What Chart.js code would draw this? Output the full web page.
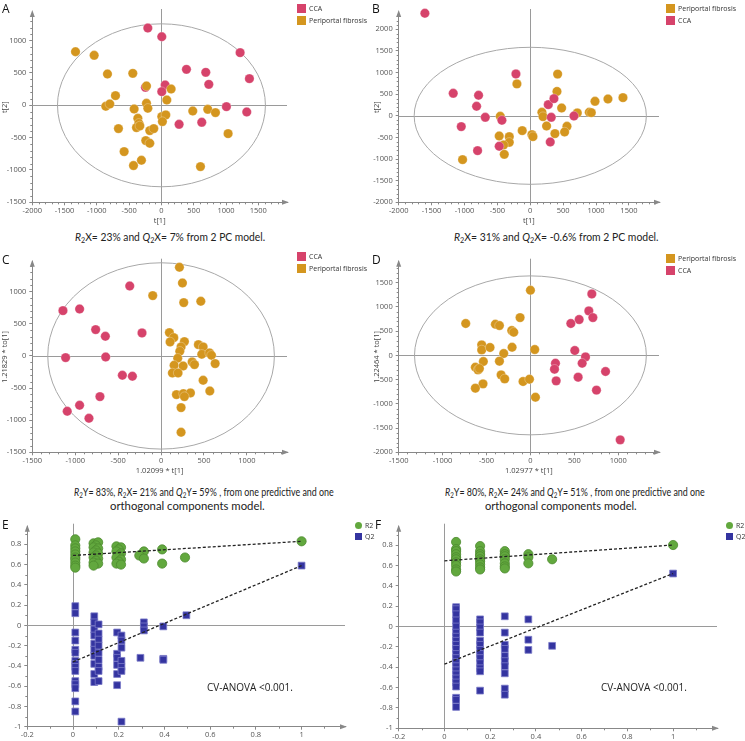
<!DOCTYPE html>
<html>
<head>
<meta charset="utf-8">
<script src="https://cdn.jsdelivr.net/npm/chart.js@4.4.1/dist/chart.umd.min.js"></script>
<style>
body{margin:0;background:#fff;width:745px;height:741px;position:relative;overflow:hidden;font-family:'Open Sans',sans-serif}
canvas{position:absolute;display:block}
.lbl{position:absolute;font-size:12px;color:#111;line-height:12px}
.leg{position:absolute;font-size:7px;color:#333;line-height:9px;white-space:nowrap}
.leg i{display:inline-block;width:9px;height:9px;vertical-align:top;margin-right:3px}
.leg b{display:inline-block;width:7px;height:7px;border-radius:50%;vertical-align:top;margin:1px 3px 0 1px}
.cap{position:absolute;font-family:Lato,sans-serif;font-size:11px;color:#222;white-space:nowrap;line-height:13px;transform-origin:0 50%}
.cap sub{font-size:0.7em;vertical-align:-0.3em;line-height:0}
.cv{position:absolute;font-size:10px;color:#222;white-space:nowrap;line-height:13px}
</style>
</head>
<body>
<canvas id="cA" width="372" height="228" style="left:0;top:0"></canvas>
<canvas id="cB" width="373" height="228" style="left:372px;top:0"></canvas>
<canvas id="cC" width="372" height="228" style="left:0;top:250px"></canvas>
<canvas id="cD" width="373" height="228" style="left:372px;top:250px"></canvas>
<canvas id="cE" width="372" height="226" style="left:0;top:515px"></canvas>
<canvas id="cF" width="373" height="226" style="left:372px;top:515px"></canvas>

<div class="lbl" style="left:2px;top:3px">A</div>
<div class="lbl" style="left:372px;top:3px">B</div>
<div class="lbl" style="left:2px;top:254px">C</div>
<div class="lbl" style="left:372px;top:254px">D</div>
<div class="lbl" style="left:2px;top:519px">E</div>
<div class="lbl" style="left:375px;top:519px">F</div>

<div class="leg" style="left:297px;top:4px"><i style="background:#d6436b"></i>CCA</div>
<div class="leg" style="left:297px;top:16px"><i style="background:#d4961f"></i>Periportal fibrosis</div>
<div class="leg" style="left:666px;top:4px"><i style="background:#d4961f"></i>Periportal fibrosis</div>
<div class="leg" style="left:666px;top:16px"><i style="background:#d6436b"></i>CCA</div>
<div class="leg" style="left:297px;top:252px"><i style="background:#d6436b"></i>CCA</div>
<div class="leg" style="left:297px;top:264px"><i style="background:#d4961f"></i>Periportal fibrosis</div>
<div class="leg" style="left:666px;top:254px"><i style="background:#d4961f"></i>Periportal fibrosis</div>
<div class="leg" style="left:666px;top:266px"><i style="background:#d6436b"></i>CCA</div>
<div class="leg" style="left:354px;top:521px"><b style="background:#62a83e"></b>R2</div>
<div class="leg" style="left:354px;top:532px"><i style="background:#3434a0;width:7px;height:7px;margin:1px 3px 0 1px"></i>Q2</div>
<div class="leg" style="left:725px;top:521px"><b style="background:#62a83e"></b>R2</div>
<div class="leg" style="left:725px;top:532px"><i style="background:#3434a0;width:7px;height:7px;margin:1px 3px 0 1px"></i>Q2</div>

<div class="cap" style="left:75px;top:230px;transform:scaleX(0.935)"><i>R</i><sub>2</sub>X= 23% and <i>Q</i><sub>2</sub>X= 7% from 2 PC model.</div>
<div class="cap" style="left:454px;top:230px;transform:scaleX(0.945)"><i>R</i><sub>2</sub>X= 31% and <i>Q</i><sub>2</sub>X= -0.6% from 2 PC model.</div>
<div class="cap" style="left:74px;top:485px;transform:scaleX(0.81)"><i>R</i><sub>2</sub>Y= 83%, <i>R</i><sub>2</sub>X= 21% and <i>Q</i><sub>2</sub>Y= 59% , from one predictive and one</div>
<div class="cap" style="left:110px;top:499px;transform:scaleX(1.03)">orthogonal components model.</div>
<div class="cap" style="left:445px;top:485px;transform:scaleX(0.81)"><i>R</i><sub>2</sub>Y= 80%, <i>R</i><sub>2</sub>X= 24% and <i>Q</i><sub>2</sub>Y= 51% , from one predictive and one</div>
<div class="cap" style="left:485px;top:499px;transform:scaleX(1.01)">orthogonal components model.</div>
<div class="cv" style="left:207px;top:681px">CV-ANOVA &lt;0.001.</div>
<div class="cv" style="left:601px;top:681px">CV-ANOVA &lt;0.001.</div>

<script>
// ---- A: PCA scores t[1] / t[2]
var scoresA_CCA = [[-211,1195],[5,1061],[1218,814],[387,556],[686,510],[1362,412],[733,324],[57,314],[-248,278],[5,211],[1006,-21],[1321,-103],[273,-294],[624,-263]];
var scoresA_PF = [[-1331,829],[-1042,773],[-836,484],[-444,494],[-232,299],[150,252],[-712,149],[83,82],[-862,-15],[-800,21],[-423,-57],[-232,31],[-211,-46],[-366,-201],[-351,-278],[-387,-345],[-335,-319],[-666,-360],[-181,-391],[-119,-360],[5,-175],[67,-149],[15,-252],[485,-88],[717,-62],[836,-113],[1032,-438],[-243,-546],[-181,-587],[-578,-716],[-310,-850],[-433,-932],[604,-948]];
var ellipseA = [1610, 1260];
var ticksA_x = [-2000, -1500, -1000, -500, 0, 500, 1000, 1500];
var ticksA_y = [-1500, -1000, -500, 0, 500, 1000];

// ---- B: PCA scores
var scoresB_PF = [[-203,737],[416,964],[406,563],[477,181],[984,335],[1181,389],[1409,420],[177,81],[193,-19],[715,66],[897,81],[928,73],[248,-235],[558,-243],[522,-374],[375,-412],[-122,-343],[25,-436],[41,-482],[-456,-12],[-472,-466],[-319,-482],[-319,-613],[-406,-675],[-395,-891],[-1029,-1014]];
var scoresB_CCA = [[-1602,2371],[-218,968],[-1171,520],[-786,474],[-816,220],[-684,-35],[-1049,-250],[-431,-104],[-801,-806],[-472,-705],[274,258],[360,397],[319,-35],[304,-605],[664,-4]];
var ellipseB = [1765, 1584];
var ticksB_x = [-2000, -1500, -1000, -500, 0, 500, 1000, 1500];
var ticksB_y = [-2000, -1500, -1000, -500, 0, 500, 1000, 1500, 2000];

// ---- C: OPLS-DA scores t[1] / to[1]
var scoresC_CCA = [[-1143,705],[-949,731],[-365,1089],[-762,410],[-649,306],[-222,358],[-1112,-26],[-645,-16],[-451,-301],[-334,-316],[-712,-633],[-949,-768],[-1093,-861],[-840,-970]];
var scoresC_PF = [[-97,939],[214,1380],[249,1136],[264,830],[463,851],[97,363],[148,285],[105,218],[272,223],[233,140],[218,73],[194,-36],[152,-145],[257,-156],[132,-265],[198,-265],[435,176],[490,140],[474,26],[564,47],[587,10],[630,-119],[362,-93],[389,-135],[490,-379],[568,-545],[179,-602],[260,-586],[342,-576],[272,-633],[233,-804],[233,-1188]];
var ellipseC = [1320, 1450];
var ticksC_x = [-1500, -1000, -500, 0, 500, 1000];
var ticksC_y = [-1500, -1000, -500, 0, 500, 1000];

// ---- D: OPLS-DA scores
var scoresD_PF = [[0,1344],[-737,657],[-118,780],[-399,643],[-353,615],[-213,512],[-190,478],[-555,217],[-555,113],[-460,162],[-209,168],[-304,38],[49,120],[-536,-127],[-353,-120],[-627,-244],[-597,-299],[-581,-272],[-334,-402],[-293,-485],[-540,-588],[-627,-677],[-84,-540],[-11,-492],[57,-863]];
var scoresD_CCA = [[699,1268],[665,918],[711,780],[555,739],[460,657],[505,100],[627,-31],[589,-162],[285,-162],[274,-285],[293,-526],[543,-450],[855,-333],[752,-718],[1022,-1743]];
var ellipseD = [1320, 1640];
var ticksD_x = [-1500, -1000, -500, 0, 500, 1000];
var ticksD_y = [-2000, -1500, -1000, -500, 0, 500, 1000, 1500];

// ---- E: permutation test (correlation, R2 / Q2)
var permE_R2 = [[0.01,0.85],[0.01,0.79],[0.01,0.76],[0.01,0.73],[0.01,0.70],[0.01,0.67],[0.01,0.65],[0.01,0.62],[0.01,0.59],[0.01,0.57],
  [0.09,0.81],[0.11,0.82],[0.1,0.79],[0.09,0.77],[0.11,0.76],[0.1,0.74],[0.09,0.72],[0.11,0.71],[0.1,0.69],[0.09,0.67],[0.11,0.66],[0.1,0.64],[0.09,0.62],[0.11,0.61],[0.09,0.59],
  [0.19,0.78],[0.21,0.77],[0.2,0.75],[0.19,0.73],[0.21,0.71],[0.2,0.69],[0.19,0.67],[0.21,0.65],[0.2,0.63],[0.19,0.61],[0.21,0.6],
  [0.31,0.73],[0.29,0.69],[0.31,0.66],[0.39,0.75],[0.39,0.61],[0.49,0.67],[1,0.83]];
var permE_Q2 = [[0.01,0.19],[0.01,0.12],[0.01,-0.07],[0.01,-0.15],[0.01,-0.24],[0.01,-0.27],[0.01,-0.35],[0.01,-0.38],[0.01,-0.41],[0.01,-0.45],[0.01,-0.55],[0.01,-0.58],[0.01,-0.62],[0.01,-0.75],[0.01,-0.85],
  [0.093,0.09],[0.093,0.03],[0.093,-0.04],[0.093,-0.1],[0.093,-0.18],[0.093,-0.24],[0.093,-0.3],[0.093,-0.38],[0.093,-0.48],[0.093,-0.56],
  [0.112,0.01],[0.112,-0.08],[0.112,-0.14],[0.112,-0.2],[0.112,-0.27],[0.112,-0.34],[0.112,-0.41],[0.112,-0.45],[0.112,-0.55],
  [0.193,-0.07],[0.193,-0.28],[0.193,-0.32],[0.193,-0.39],[0.193,-0.48],[0.193,-0.59],
  [0.212,-0.1],[0.212,-0.15],[0.212,-0.22],[0.212,-0.35],[0.212,-0.41],[0.212,-0.45],[0.212,-0.95],
  [0.31,0.03],[0.31,-0.01],[0.31,-0.05],[0.295,-0.32],[0.395,-0.01],[0.395,-0.33],[0.395,-0.34],[0.496,0.1],[1,0.59]];
var fitE_R2 = [[0,0.69],[1,0.83]];
var fitE_Q2 = [[0,-0.36],[1,0.59]];
var ticksE_x = [-0.2, 0, 0.2, 0.4, 0.6, 0.8, 1];
var ticksE_y = [-1, -0.8, -0.6, -0.4, -0.2, 0, 0.2, 0.4, 0.6, 0.8];

// ---- F: permutation test
var permF_R2 = [[0.051,0.83],[0.051,0.76],[0.051,0.74],[0.051,0.71],[0.051,0.68],[0.051,0.66],[0.051,0.63],[0.051,0.60],[0.051,0.56],[0.051,0.54],
  [0.156,0.79],[0.156,0.74],[0.156,0.71],[0.156,0.69],[0.156,0.66],[0.156,0.64],[0.156,0.61],[0.156,0.58],[0.156,0.56],
  [0.264,0.74],[0.264,0.71],[0.264,0.69],[0.264,0.66],[0.264,0.62],[0.264,0.59],[0.264,0.57],
  [0.367,0.71],[0.367,0.68],[0.367,0.62],[0.471,0.66],[1,0.80]];
var permF_Q2 = [[0.051,0.19],[0.051,0.17],[0.051,0.12],[0.051,0.06],[0.051,0.0],[0.051,-0.06],[0.051,-0.1],[0.051,-0.14],[0.051,-0.18],[0.051,-0.22],[0.051,-0.27],[0.051,-0.31],[0.051,-0.35],[0.051,-0.39],[0.051,-0.43],[0.051,-0.47],[0.051,-0.51],[0.051,-0.55],[0.051,-0.59],[0.051,-0.70],[0.051,-0.72],[0.051,-0.79],
  [0.156,0.07],[0.156,0.04],[0.156,-0.01],[0.156,-0.06],[0.156,-0.14],[0.156,-0.18],[0.156,-0.23],[0.156,-0.27],[0.156,-0.31],[0.156,-0.36],[0.156,-0.41],[0.156,-0.44],[0.156,-0.63],
  [0.264,0.1],[0.264,-0.06],[0.264,-0.18],[0.264,-0.22],[0.264,-0.29],[0.264,-0.34],[0.264,-0.39],[0.264,-0.46],[0.264,-0.61],[0.264,-0.67],
  [0.367,0.07],[0.367,-0.13],[0.367,-0.23],[0.471,-0.19],[1,0.52]];
var fitF_R2 = [[0,0.645],[1,0.80]];
var fitF_Q2 = [[0,-0.37],[1,0.52]];
var ticksF_x = ticksE_x;
var ticksF_y = ticksE_y;

var PINK = '#d6436b', ORANGE = '#d4961f', GREEN = '#62a83e', BLUE = '#3434a0';
var tickFont = {family: "'Open Sans', sans-serif", size: 7.5};

function xy(arr) {
    return arr.map(function(p) { return {x: p[0], y: p[1]}; });
}

// crosshair, ellipse, minor ticks and axis arrows
var decor = {
    id: 'decor',
    beforeDatasetsDraw: function(chart, args, o) {
        var ctx = chart.ctx, a = chart.chartArea, x = chart.scales.x, y = chart.scales.y;
        var x0 = x.getPixelForValue(0), y0 = y.getPixelForValue(0);
        ctx.save();
        ctx.strokeStyle = '#9a9a9a';
        ctx.lineWidth = 1;
        ctx.beginPath();
        ctx.moveTo(Math.round(x0) + 0.5, a.top - 3);
        ctx.lineTo(Math.round(x0) + 0.5, a.bottom);
        ctx.moveTo(a.left, Math.round(y0) + 0.5);
        ctx.lineTo(a.right, Math.round(y0) + 0.5);
        ctx.stroke();
        if (o.ellipse) {
            var rx = x.getPixelForValue(o.ellipse[0]) - x0;
            var ry = y0 - y.getPixelForValue(o.ellipse[1]);
            ctx.strokeStyle = '#a8a8a8';
            ctx.beginPath();
            ctx.ellipse(x0, y0, rx, ry, 0, 0, 2 * Math.PI);
            ctx.stroke();
        }
        ctx.restore();
    },
    afterDraw: function(chart, args, o) {
        var ctx = chart.ctx, a = chart.chartArea, x = chart.scales.x, y = chart.scales.y;
        ctx.save();
        ctx.strokeStyle = '#888';
        ctx.fillStyle = '#888';
        ctx.lineWidth = 1;
        ctx.beginPath();
        var sx = o.stepX / o.minor, sy = o.stepY / o.minor, i;
        for (i = Math.ceil(x.min / sx - 1e-9); i * sx <= x.max - sx / 2; i++) {
            if (i % o.minor === 0) continue;
            var px = Math.round(x.getPixelForValue(i * sx)) + 0.5;
            ctx.moveTo(px, a.bottom);
            ctx.lineTo(px, a.bottom + 2);
        }
        for (i = Math.ceil(y.min / sy - 1e-9); i * sy <= y.max - sy / 2; i++) {
            if (i % o.minor === 0) continue;
            var py = Math.round(y.getPixelForValue(i * sy)) + 0.5;
            ctx.moveTo(a.left, py);
            ctx.lineTo(a.left - 2, py);
        }
        ctx.stroke();
        ctx.beginPath();
        ctx.moveTo(a.right + 2, a.bottom);
        ctx.lineTo(a.right - 5, a.bottom - 2.5);
        ctx.lineTo(a.right - 5, a.bottom + 2.5);
        ctx.closePath();
        ctx.moveTo(a.left, a.top - 2);
        ctx.lineTo(a.left - 2.5, a.top + 5);
        ctx.lineTo(a.left + 2.5, a.top + 5);
        ctx.closePath();
        ctx.fill();
        ctx.restore();
    }
};

function axis(min, max, tickList, title, fitSize, horizontal) {
    return {
        type: 'linear',
        min: min,
        max: max,
        ticks: {font: tickFont, color: '#555', padding: horizontal ? 1 : 3, maxRotation: 0, autoSkip: false,
            callback: function(v) { return String(v); }},
        afterBuildTicks: function(sc) {
            sc.ticks = tickList.map(function(v) { return {value: v}; });
        },
        grid: {drawOnChartArea: false, drawTicks: true, tickLength: 3, color: '#888'},
        border: {display: true, color: '#888'},
        title: {display: !!title, text: title, font: tickFont, color: '#444', padding: horizontal ? {top: 0, bottom: 3} : {top: 0, bottom: 0}},
        afterFit: function(sc) {
            if (horizontal) sc.height = fitSize; else sc.width = fitSize;
        }
    };
}

function makeChart(id, datasets, g) {
    new Chart(document.getElementById(id).getContext('2d'), {
        type: 'scatter',
        data: {datasets: datasets},
        options: {
            responsive: false,
            animation: false,
            layout: {padding: {top: g.top, right: g.right, left: 0, bottom: 0}},
            plugins: {
                legend: {display: false},
                tooltip: {enabled: false},
                decor: {ellipse: g.ellipse, stepX: g.xt[1] - g.xt[0], stepY: g.yt[1] - g.yt[0], minor: g.minor}
            },
            scales: {
                x: axis(g.x[0], g.x[1], g.xt, g.xTitle, g.h - g.bottom, true),
                y: axis(g.y[0], g.y[1], g.yt, g.yTitle, g.left, false)
            }
        },
        plugins: [decor]
    });
}

function dots(label, arr, color, order) {
    return {label: label, data: xy(arr), backgroundColor: color, borderColor: 'rgba(255,255,255,0.35)', borderWidth: 0.8, pointRadius: 4.7, order: order, clip: false};
}

makeChart('cA', [dots('CCA', scoresA_CCA, PINK, 2), dots('Periportal fibrosis', scoresA_PF, ORANGE, 1)],
    {h: 228, left: 32.3, right: 85, top: 12, bottom: 202.3, x: [-2000, 1944], y: [-1500, 1443], xt: ticksA_x, yt: ticksA_y, minor: 5, ellipse: ellipseA, xTitle: 't[1]', yTitle: 't[2]'});
makeChart('cB', [dots('Periportal fibrosis', scoresB_PF, ORANGE, 2), dots('CCA', scoresB_CCA, PINK, 1)],
    {h: 228, left: 26.7, right: 86, top: 12, bottom: 202.3, x: [-2000, 1957], y: [-2000, 2400], xt: ticksB_x, yt: ticksB_y, minor: 5, ellipse: ellipseB, xTitle: 't[1]', yTitle: 't[2]'});
makeChart('cC', [dots('CCA', scoresC_CCA, PINK, 2), dots('Periportal fibrosis', scoresC_PF, ORANGE, 1)],
    {h: 228, left: 32.3, right: 85, top: 11.7, bottom: 202.3, x: [-1500, 1467], y: [-1500, 1467], xt: ticksC_x, yt: ticksC_y, minor: 5, ellipse: ellipseC, xTitle: '1.02099 * t[1]', yTitle: '1.21829 * to[1]'});
makeChart('cD', [dots('Periportal fibrosis', scoresD_PF, ORANGE, 2), dots('CCA', scoresD_CCA, PINK, 1)],
    {h: 228, left: 26.7, right: 86, top: 11.7, bottom: 202.3, x: [-1500, 1464], y: [-2000, 1933], xt: ticksD_x, yt: ticksD_y, minor: 5, ellipse: ellipseD, xTitle: '1.02977 * t[1]', yTitle: '1.22464 * to[1]'});

function perm(r2, q2, fr2, fq2) {
    return [
        {type: 'line', data: xy(fr2), borderColor: '#222', borderWidth: 1.3, borderDash: [3, 2], pointRadius: 0, order: 0},
        {type: 'line', data: xy(fq2), borderColor: '#222', borderWidth: 1.3, borderDash: [3, 2], pointRadius: 0, order: 0},
        {label: 'R2', data: xy(r2), backgroundColor: GREEN, borderColor: '#4c8a2e', borderWidth: 0.8, pointRadius: 4.6, order: 2, clip: false},
        {label: 'Q2', data: xy(q2), pointStyle: 'rect', backgroundColor: BLUE, borderColor: '#7a7ac8', borderWidth: 0.8, pointRadius: 4.8, order: 1, clip: false}
    ];
}

makeChart('cE', perm(permE_R2, permE_Q2, fitE_R2, fitE_Q2),
    {h: 226, left: 27.3, right: 27, top: 11.7, bottom: 211.7, x: [-0.2, 1.19], y: [-1, 0.974], xt: ticksE_x, yt: ticksE_y, minor: 2, xTitle: '', yTitle: ''});
makeChart('cF', perm(permF_R2, permF_Q2, fitF_R2, fitF_Q2),
    {h: 226, left: 26.7, right: 28, top: 11.7, bottom: 213.3, x: [-0.2, 1.192], y: [-1, 0.98], xt: ticksF_x, yt: ticksF_y, minor: 2, xTitle: '', yTitle: ''});
</script>
</body>
</html>
